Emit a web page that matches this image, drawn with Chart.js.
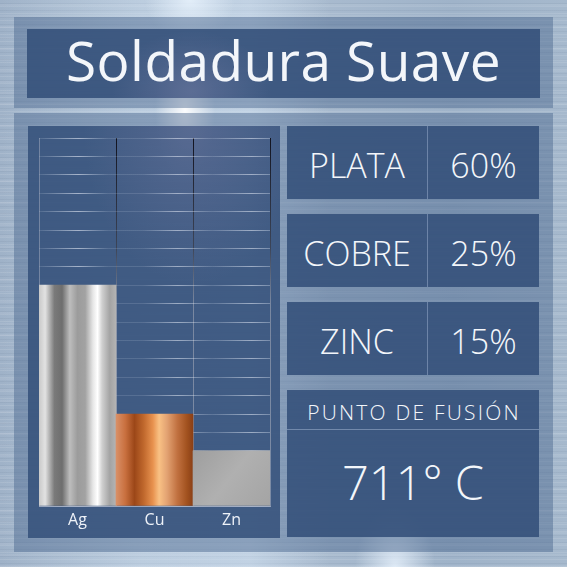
<!DOCTYPE html>
<html lang="es">
<head>
<meta charset="utf-8">
<title>Soldadura Suave</title>
<script src="https://cdn.jsdelivr.net/npm/chart.js"></script>
<style>
  html, body { margin: 0; padding: 0; }
  body { width: 567px; height: 567px; overflow: hidden; font-family: "Open Sans", sans-serif; }

  /* fondo de metal cepillado */
  .lienzo {
    position: relative; width: 567px; height: 567px;
    background:
      radial-gradient(ellipse 30px 70px at 185px 110px, rgba(255,255,255,0.95), rgba(255,255,255,0) 100%),
      radial-gradient(ellipse 40px 60px at 395px 567px, rgba(235,245,255,0.8), rgba(255,255,255,0) 100%),
      radial-gradient(ellipse 45px 40px at 190px 0px, rgba(235,245,255,0.8), rgba(255,255,255,0) 100%),
      linear-gradient(90deg, rgba(255,255,255,0) 0px, rgba(220,235,250,0.45) 250px, rgba(255,255,255,0) 330px),
      repeating-linear-gradient(0deg, rgba(255,255,255,0.10) 0 1px, rgba(0,0,0,0) 1px 3px, rgba(40,60,90,0.06) 3px 4px, rgba(0,0,0,0) 4px 7px),
      repeating-linear-gradient(0deg, rgba(255,255,255,0.07) 0 2px, rgba(0,0,0,0) 2px 11px),
      linear-gradient(90deg, #9fb2c8 0%, #b1c3d6 25%, #a9bbcf 55%, #9fb3c9 80%, #a6b9cd 100%);
  }
  .marco { position: absolute; background: rgba(70,100,140,0.45); }
  .caja  { position: absolute; background: rgba(50,78,120,0.86); color: #f3f6fa; }

  .titulo {
    display: flex; align-items: center; justify-content: center;
    font-size: 55px; font-weight: 400; letter-spacing: 0.4px;
    padding-bottom: 8px; box-sizing: border-box;
    background:
      radial-gradient(ellipse 80px 60px at 165px 90%, rgba(170,160,200,0.25), rgba(0,0,0,0)),
      rgba(50,78,120,0.86);
  }
  .grafica {
    background:
      radial-gradient(ellipse 110px 160px at 165px 0px, rgba(160,150,190,0.22), rgba(0,0,0,0)),
      rgba(52,80,122,0.86);
  }
  .fila { display: flex; }
  .fila div { display: flex; align-items: center; justify-content: center; font-weight: 300; font-size: 34px; padding-top: 4px; }
  .fila .nombre { width: 140px; border-right: 1px solid rgba(150,170,200,0.55); }
  .fila .valor { flex: 1; }
  .fusion-cab {
    position: absolute; left: 0; right: 0; top: 0; height: 40px;
    display: flex; align-items: center; justify-content: center;
    font-size: 21px; font-weight: 300; letter-spacing: 2.2px;
    padding-top: 5px; padding-left: 2px; box-sizing: border-box;
    border-bottom: 1px solid rgba(150,170,200,0.6);
  }
  .fusion-val {
    position: absolute; left: 0; right: 0; top: 41px; bottom: 0;
    display: flex; align-items: center; justify-content: center;
    font-size: 47px; font-weight: 300; padding-bottom: 4px; box-sizing: border-box;
  }
</style>
</head>
<body>
<div class="lienzo">
  <div class="marco" style="left:14px; top:17px; width:539px; height:91px;"></div>
  <div class="caja titulo" id="titulo" style="left:27px; top:29px; width:513px; height:69px;"></div>

  <div class="marco" style="left:14px; top:113px; width:539px; height:439px;"></div>
  <div class="caja grafica" style="left:28px; top:126px; width:252px; height:412px;">
    <canvas id="graficoAleacion"></canvas>
  </div>
  <div id="filas"></div>
  <div class="caja" style="left:287px; top:390px; width:252px; height:147px;">
    <div class="fusion-cab" id="fusionCab"></div>
    <div class="fusion-val" id="fusionVal"></div>
  </div>
</div>

<script>
/* ============================================================
   DATOS
============================================================ */
const titulo = "Soldadura Suave";
const simbolos = ["Ag", "Cu", "Zn"];
const metales = ["PLATA", "COBRE", "ZINC"];
const porcentajes = [60, 25, 15];
const escalaMax = 100;
const escalaPaso = 5;
const etiquetaFusion = "PUNTO DE FUSIÓN";
const puntoFusion = "711° C";

/* ============================================================
   TEXTOS Y CAJAS
============================================================ */
document.getElementById("titulo").innerText = titulo;
document.getElementById("fusionCab").innerText = etiquetaFusion;
document.getElementById("fusionVal").innerText = puntoFusion;

const filas = document.getElementById("filas");
const filasTop = [126, 214, 302];
metales.forEach((nombre, i) => {
  const fila = document.createElement("div");
  fila.className = "caja fila";
  fila.style.cssText = `left:287px; top:${filasTop[i]}px; width:252px; height:73px;`;
  fila.innerHTML = `<div class="nombre">${nombre}</div><div class="valor">${porcentajes[i]}%</div>`;
  filas.appendChild(fila);
});

/* ============================================================
   GRADIENTES METÁLICOS
============================================================ */
const bandas = [
  // plata
  [[0, "#c9c9c9"], [0.08, "#e2e2e2"], [0.2, "#7a7a7a"], [0.3, "#6e6e6e"], [0.4, "#bdbdbd"],
   [0.5, "#9c9c9c"], [0.6, "#a2a2a2"], [0.7, "#e6e6e6"], [0.76, "#ffffff"], [0.82, "#cfcfcf"],
   [0.92, "#a3a3a3"], [1, "#b4b4b4"]],
  // cobre
  [[0, "#d99068"], [0.12, "#c9703f"], [0.24, "#9c4718"], [0.36, "#c0682d"], [0.48, "#e8924f"],
   [0.56, "#f9c184"], [0.66, "#e3a373"], [0.8, "#c0703f"], [0.92, "#a2521f"], [1, "#8a3f16"]],
];

function rellenoBarra(ctx) {
  const chart = ctx.chart;
  const ca = chart.chartArea;
  if (!ca) return "#a0a0a0";
  const xs = chart.scales.x;
  const i = ctx.dataIndex;
  const mitad = (ca.right - ca.left) / simbolos.length / 2;
  const centro = xs.getPixelForValue(i);
  const c = chart.ctx;
  if (i < bandas.length) {
    const g = c.createLinearGradient(centro - mitad, 0, centro + mitad, 0);
    bandas[i].forEach(([p, col]) => g.addColorStop(p, col));
    return g;
  }
  // zinc: gris plano con brillo suave
  const g = c.createLinearGradient(centro - mitad, ca.bottom - 60, centro + mitad, ca.bottom);
  g.addColorStop(0, "#9d9d9d");
  g.addColorStop(0.5, "#b0b0b0");
  g.addColorStop(1, "#a4a4a4");
  return g;
}

function lineaHorizontal(ctx) {
  const ca = ctx.chart.chartArea;
  if (!ca) return "rgba(220,230,245,0.35)";
  const g = ctx.chart.ctx.createLinearGradient(ca.left, 0, ca.right, 0);
  g.addColorStop(0, "rgba(220,230,245,0.12)");
  g.addColorStop(0.17, "rgba(235,240,250,0.6)");
  g.addColorStop(0.3, "rgba(220,230,245,0.15)");
  g.addColorStop(0.45, "rgba(220,230,245,0.15)");
  g.addColorStop(0.6, "rgba(235,240,250,0.55)");
  g.addColorStop(0.75, "rgba(220,230,245,0.2)");
  g.addColorStop(0.92, "rgba(235,240,250,0.55)");
  g.addColorStop(1, "rgba(220,230,245,0.35)");
  return g;
}

function lineaVertical(ctx) {
  const ca = ctx.chart.chartArea;
  if (!ca) return "rgba(150,160,180,0.6)";
  if (ctx.index === 0 || ctx.index === simbolos.length) return "rgba(160,170,190,0.55)";
  const g = ctx.chart.ctx.createLinearGradient(0, ca.top, 0, ca.bottom);
  g.addColorStop(0, "rgba(15,15,25,0.95)");
  g.addColorStop(0.3, "rgba(60,65,80,0.85)");
  g.addColorStop(0.45, "rgba(140,150,170,0.75)");
  g.addColorStop(1, "rgba(150,160,180,0.7)");
  return g;
}

/* ============================================================
   GRÁFICO
============================================================ */
Chart.defaults.font.family = "'Open Sans', sans-serif";

new Chart(document.getElementById("graficoAleacion"), {
  type: "bar",
  data: {
    labels: simbolos,
    datasets: [
      {
        data: porcentajes,
        backgroundColor: rellenoBarra,
        borderWidth: 0,
        barPercentage: 1,
        categoryPercentage: 1,
      },
    ],
  },
  options: {
    responsive: true,
    maintainAspectRatio: false,
    animation: false,
    layout: { padding: { left: 11, right: 10, top: 12, bottom: 0 } },
    plugins: {
      legend: { display: false },
      tooltip: { enabled: false },
    },
    scales: {
      x: {
        grid: { color: lineaVertical, lineWidth: 1, drawTicks: false, offset: true },
        border: { color: "rgba(170,180,200,0.8)" },
        ticks: { color: "#eef2f8", font: { size: 16 }, padding: 5 },
        afterFit: (escala) => { escala.height = 32; },
      },
      y: {
        min: 0,
        max: escalaMax,
        z: 1,
        ticks: { display: false, stepSize: escalaPaso },
        grid: { color: lineaHorizontal, lineWidth: 1, drawTicks: false },
        border: { display: false },
      },
    },
  },
});
</script>
</body>
</html>
